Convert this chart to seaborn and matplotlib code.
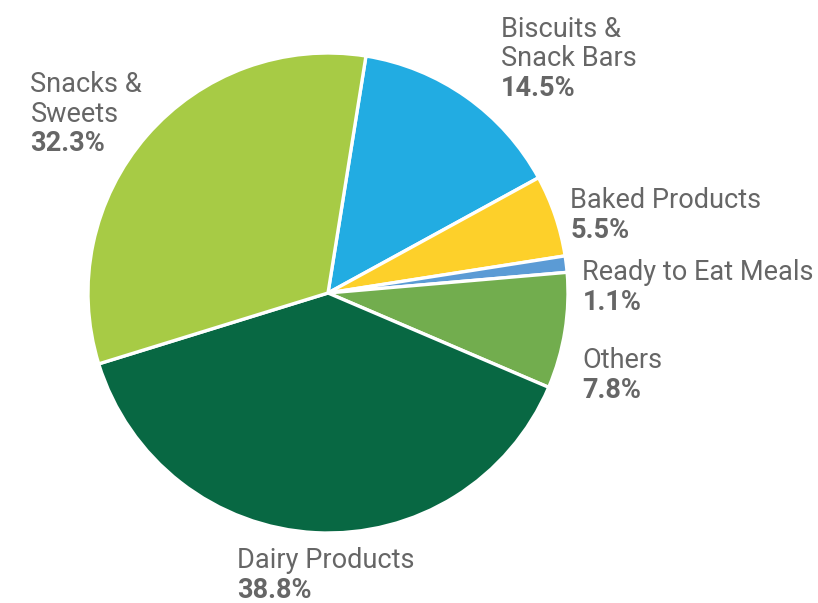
import numpy as np
import matplotlib
matplotlib.use("Agg")
import matplotlib.pyplot as plt
import seaborn as sns

# data (clockwise from the top)
categories = ["Biscuits &\nSnack Bars", "Baked Products", "Ready to Eat Meals",
              "Others", "Dairy Products", "Snacks &\nSweets"]
shares = [14.5, 5.5, 1.1, 7.8, 38.8, 32.3]
colors = ["#22ACE2", "#FDD02A", "#5B9BD5", "#72AD4E", "#086843", "#A7CB45"]

# label anchors (top-left, in radius units from pie centre)
label_x = [0.72, 1.01, 1.06, 1.06, -0.38, -1.24]
label_y = [1.155, 0.44, 0.14, -0.225, -1.06, 0.925]

sns.set_style("white")
plt.rcParams["font.family"] = ["Roboto", "DejaVu Sans"]

fig = plt.figure(figsize=(8.18, 6.03), dpi=100)
ax = fig.add_axes([0, 0, 1, 1])

ax.pie(shares, colors=colors, startangle=80.9, counterclock=False,
       radius=1.0, center=(0, 0),
       wedgeprops=dict(edgecolor="white", linewidth=2.4))

line_h = 0.123
for name, val, x, y in zip(categories, shares, label_x, label_y):
    n_lines = name.count("\n") + 1
    ax.text(x, y, name, ha="left", va="top", fontsize=19.5, color="#666666",
            linespacing=1.12)
    ax.text(x, y - n_lines * line_h, f"{val}%", ha="left", va="top",
            fontsize=19.5, fontweight="bold", color="#666666")

ax.set_xlim(-328 / 240, 490 / 240)
ax.set_ylim(-310 / 240, 293 / 240)
ax.set_aspect("equal")
ax.axis("off")

fig.savefig("out.png", dpi=100)
